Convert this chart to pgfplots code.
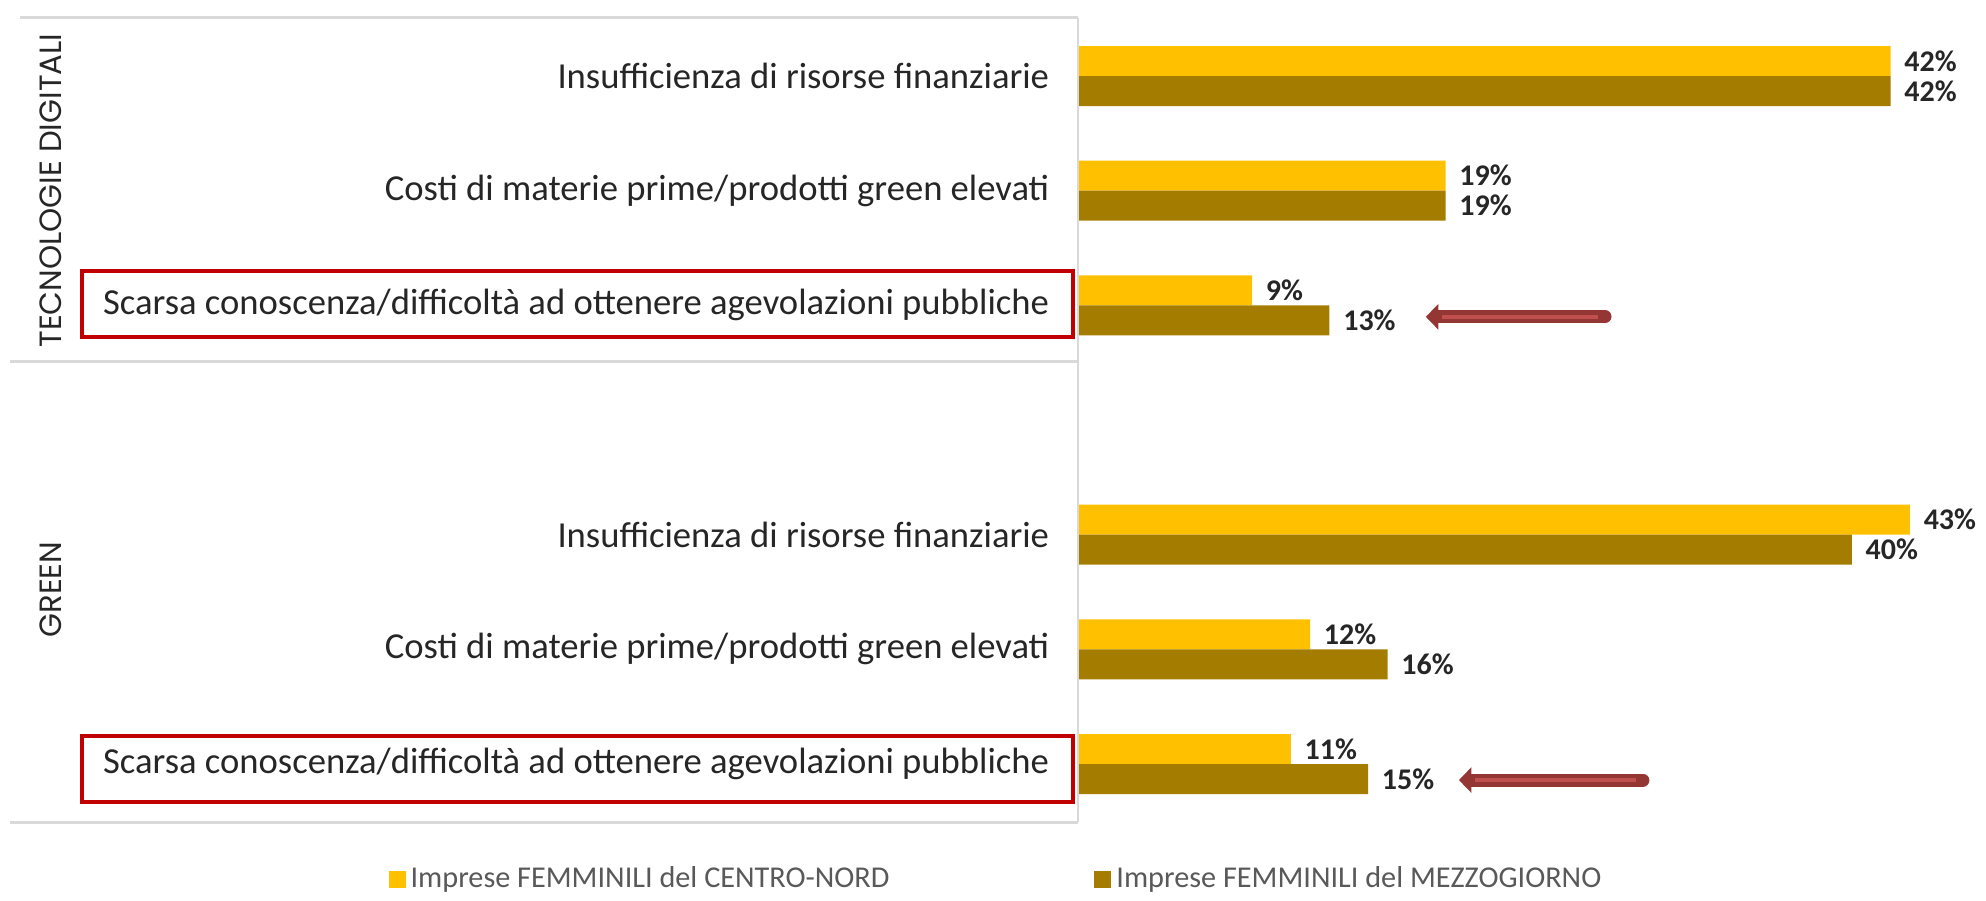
\documentclass[border=0pt]{standalone}
\usepackage{pgfplots}
\pgfplotsset{compat=1.18}
\usepackage{fontspec}
\setmainfont{Carlito}
\newfontfamily\gothic{Poppins}
\usetikzlibrary{arrows.meta}
\definecolor{cnord}{HTML}{FFC000}
\definecolor{mezz}{HTML}{A47D00}
\definecolor{framegray}{HTML}{D9D9D9}
\definecolor{boxred}{HTML}{C00000}
\definecolor{arrowdark}{HTML}{943634}
\definecolor{arrowlight}{HTML}{C0504D}
\definecolor{legtext}{HTML}{595959}
\definecolor{labtext}{HTML}{262626}
\begin{document}
\begin{tikzpicture}
\begin{axis}[
  xbar,
  x=7.74pt, y=45.87pt,
  xmin=0, xmax=46, ymin=-0.506, ymax=6.51,
  enlargelimits=false,
  clip=false,
  bar width=12pt,
  axis line style={draw=none},
  xtick=\empty,
  ytick={0,1,2,4,5,6},
  yticklabels={Scarsa conoscenza/difficoltà ad ottenere agevolazioni pubbliche,
               Costi di materie prime/prodotti green elevati,
               Insufficienza di risorse finanziarie,
               Scarsa conoscenza/difficoltà ad ottenere agevolazioni pubbliche,
               Costi di materie prime/prodotti green elevati,
               Insufficienza di risorse finanziarie},
  major tick length=0pt,
  ytick style={draw=none},
  yticklabel style={font=\fontsize{14.65}{16}\selectfont, text=labtext, anchor=east},
  yticklabel shift=8pt,
  /pgf/number format/assume math mode=true,
  point meta=x,
  nodes near coords={\pgfmathprintnumber{\pgfplotspointmeta}\%},
  nodes near coords style={font=\bfseries\fontsize{12}{14}\selectfont, text=labtext, anchor=west, xshift=2pt},
  legend columns=2,
  legend style={at={(-0.775,-0.0709)}, anchor=west, draw=none, fill=none, inner sep=0pt,
    font=\fontsize{12.1}{14}\selectfont, text=legtext,
    nodes={inner sep=2pt},
    /tikz/every even column/.append style={column sep=80pt}},
  legend image code/.code={\fill[#1] (0pt,-3.4pt) rectangle (6.8pt,3.4pt);},
]
\addplot[fill=cnord, draw=none, bar shift=6pt] coordinates {(42,6) (19,5) (9,4) (43,2) (12,1) (11,0)};
\addplot[fill=mezz, draw=none, bar shift=-6pt] coordinates {(42,6) (19,5) (13,4) (40,2) (16,1) (15,0)};
\legend{Imprese FEMMINILI del CENTRO-NORD, Imprese FEMMINILI del MEZZOGIORNO}

% frame
\draw[framegray, line width=1.2pt] (axis cs:-54.7,6.51) -- (axis cs:0,6.51);
\draw[framegray, line width=1.2pt] (axis cs:-55.2,3.506) -- (axis cs:0,3.506);
\draw[framegray, line width=1.2pt] (axis cs:-55.2,-0.506) -- (axis cs:0,-0.506);
\draw[framegray, line width=0.8pt] (axis cs:0,6.51) -- (axis cs:0,-0.506);

% group labels
\node[rotate=90, font=\gothic\fontsize{12.3}{14}\selectfont, text=labtext] at (axis cs:-53.1,5.0) {TECNOLOGIE DIGITALI};
\node[rotate=90, font=\gothic\fontsize{12.3}{14}\selectfont, text=labtext] at (axis cs:-53.1,1.52) {GREEN};

% red boxes
\draw[boxred, line width=1.6pt] (axis cs:-51.47,3.724) rectangle (axis cs:-0.26,4.30);
\draw[boxred, line width=1.6pt] (axis cs:-51.47,-0.331) rectangle (axis cs:-0.26,0.244);

% arrows
\draw[arrowdark, line width=5.2pt, line cap=round, -{Triangle[width=10pt,length=5pt]}] (axis cs:27.24,3.9) -- (axis cs:17.98,3.9);
\draw[arrowlight, line width=1.6pt] (axis cs:26.9,3.9) -- (axis cs:18.8,3.9);
\draw[arrowdark, line width=5.2pt, line cap=round, -{Triangle[width=10pt,length=5pt]}] (axis cs:29.2,-0.14) -- (axis cs:19.69,-0.14);
\draw[arrowlight, line width=1.6pt] (axis cs:28.85,-0.14) -- (axis cs:20.5,-0.14);

\coordinate (BL) at (axis cs:-55.71,-1.186);
\coordinate (TR) at (axis cs:46.93,6.663);
\end{axis}
\pgfresetboundingbox
\path[use as bounding box] (BL) rectangle (TR);
\end{tikzpicture}
\end{document}
